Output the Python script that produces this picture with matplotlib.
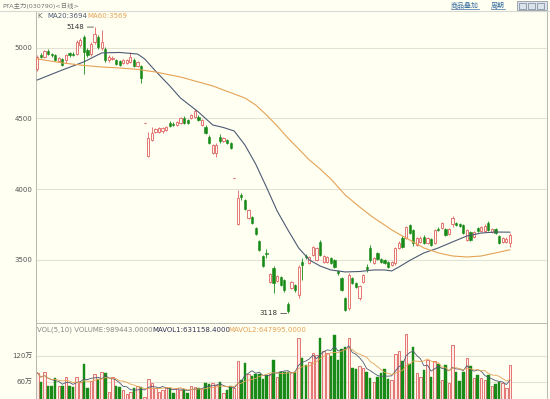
import matplotlib
matplotlib.use('Agg')
import matplotlib.pyplot as plt
import numpy as np
import pandas as pd
from matplotlib.patches import Rectangle

plt.rcParams['font.family'] = ['DejaVu Sans', 'Noto Sans CJK SC']

title = 'PTA主力(030790)<日线>'

opens = [4851, 4950, 4936, 4979, 4957, 4950, 4908, 4922, 4915, 4965, 4957, 4957, 5021, 5078, 4986, 4957, 5043, 5078, 5000, 4993,
         4915, 4922, 4915, 4908, 4894, 4894, 4901, 4915, 4872, 4872, 4468, 4234, 4348, 4404, 4404, 4411, 4419, 4468, 4461, 4454,
         4468, 4504, 4490, 4504, 4511, 4511, 4454, 4440, 4369, 4256, 4256, 4369, 4341, 4348, 4326, 4078, 3752, 3958, 3922, 3795,
         3802, 3724, 3632, 3525, 3547, 3341, 3440, 3348, 3376, 3355, 3185, 3298, 3320, 3249, 3483, 3525, 3476, 3532, 3497, 3625,
         3483, 3483, 3511, 3497, 3419, 3369, 3228, 3157, 3369, 3334, 3228, 3341, 3447, 3582, 3476, 3547, 3504, 3497, 3483, 3461,
         3476, 3582, 3653, 3653, 3745, 3710, 3603, 3625, 3660, 3617, 3646, 3617, 3717, 3724, 3717, 3681, 3752, 3759, 3752, 3745,
         3639, 3695, 3660, 3724, 3703, 3703, 3759, 3695, 3717, 3667, 3625, 3625, 3617]
highs = [4950, 4965, 4986, 4993, 4965, 4957, 4936, 4929, 4957, 4972, 4972, 5057, 5071, 5092, 5000, 5043, 5148, 5092, 5128, 5007,
         4950, 4943, 4922, 4915, 4922, 4922, 4972, 4929, 4908, 4879, 4468, 4404, 4440, 4433, 4440, 4440, 4447, 4483, 4475, 4483,
         4511, 4518, 4497, 4532, 4567, 4525, 4497, 4454, 4383, 4319, 4326, 4390, 4369, 4355, 4334, 4078, 3993, 3972, 3929, 3858,
         3809, 3731, 3639, 3532, 3575, 3405, 3454, 3391, 3383, 3362, 3199, 3348, 3327, 3461, 3511, 3539, 3525, 3596, 3589, 3639,
         3532, 3525, 3518, 3504, 3426, 3376, 3235, 3405, 3376, 3341, 3320, 3398, 3468, 3603, 3518, 3554, 3511, 3504, 3490, 3490,
         3589, 3632, 3667, 3738, 3752, 3717, 3660, 3667, 3674, 3660, 3653, 3717, 3731, 3766, 3724, 3724, 3809, 3766, 3759, 3752,
         3717, 3703, 3703, 3731, 3738, 3752, 3773, 3724, 3724, 3674, 3660, 3660, 3688]
lows = [4837, 4929, 4929, 4950, 4936, 4908, 4901, 4872, 4894, 4936, 4943, 4950, 5007, 4816, 4936, 4943, 5028, 4993, 4986, 4901,
        4901, 4915, 4879, 4872, 4887, 4887, 4894, 4865, 4865, 4752, 4468, 4227, 4341, 4397, 4397, 4397, 4411, 4440, 4447, 4447,
        4461, 4461, 4461, 4497, 4504, 4483, 4447, 4390, 4319, 4248, 4227, 4326, 4334, 4319, 4284, 4078, 3745, 3922, 3851, 3788,
        3752, 3674, 3561, 3447, 3511, 3334, 3263, 3341, 3312, 3270, 3118, 3291, 3270, 3228, 3355, 3504, 3468, 3525, 3490, 3525,
        3476, 3476, 3468, 3440, 3391, 3277, 3135, 3142, 3327, 3298, 3213, 3334, 3412, 3483, 3468, 3497, 3476, 3468, 3440, 3454,
        3461, 3575, 3582, 3646, 3681, 3596, 3596, 3617, 3610, 3610, 3596, 3610, 3703, 3717, 3667, 3674, 3731, 3738, 3731, 3681,
        3632, 3632, 3653, 3695, 3695, 3695, 3703, 3688, 3681, 3610, 3617, 3617, 3589]
closes = [4936, 4936, 4979, 4957, 4950, 4915, 4929, 4879, 4950, 4950, 4950, 5043, 5057, 4972, 4950, 5028, 5099, 5007, 5043, 4915,
          4936, 4929, 4887, 4879, 4915, 4915, 4936, 4872, 4901, 4787, 4468, 4362, 4397, 4426, 4433, 4433, 4440, 4447, 4454, 4475,
          4504, 4468, 4468, 4525, 4553, 4490, 4490, 4397, 4326, 4312, 4312, 4341, 4362, 4326, 4291, 4078, 3937, 3944, 3858, 3851,
          3759, 3681, 3568, 3454, 3539, 3398, 3334, 3383, 3320, 3284, 3135, 3341, 3284, 3447, 3461, 3518, 3518, 3589, 3582, 3532,
          3525, 3518, 3476, 3447, 3405, 3284, 3142, 3391, 3334, 3305, 3312, 3391, 3433, 3497, 3511, 3504, 3483, 3476, 3447, 3483,
          3582, 3617, 3589, 3731, 3688, 3617, 3653, 3653, 3617, 3653, 3603, 3710, 3710, 3759, 3674, 3717, 3795, 3745, 3738, 3688,
          3710, 3639, 3695, 3703, 3731, 3738, 3710, 3717, 3688, 3617, 3653, 3646, 3674]
# volumes in units of 万 (10,000)
volumes = [81, 60, 82, 50, 51, 69, 51, 50, 70, 50, 48, 72, 60, 100, 45, 62, 78, 66, 82, 81,
           37, 70, 50, 48, 41, 32, 37, 45, 50, 48, 25, 66, 56, 45, 37, 41, 48, 46, 35, 45,
           42, 41, 33, 50, 48, 46, 43, 56, 54, 56, 52, 60, 33, 41, 50, 45, 108, 64, 104, 78,
           73, 78, 78, 66, 75, 78, 110, 70, 83, 82, 83, 82, 83, 161, 114, 99, 106, 126, 122, 160,
           132, 127, 119, 168, 110, 135, 141, 160, 91, 89, 96, 92, 83, 68, 60, 70, 79, 89, 66, 64,
           124, 132, 108, 170, 102, 141, 81, 72, 87, 110, 72, 108, 100, 64, 99, 56, 145, 83, 62, 82,
           114, 96, 68, 76, 68, 64, 75, 50, 55, 60, 57, 45, 98.9443]

ma_idx = [0, 7, 13, 18, 23, 28, 30, 33, 37, 40, 45, 49, 52, 55, 58, 61, 64, 67, 70, 73, 76, 79, 82, 86, 90,
          94, 97, 99, 101, 104, 108, 112, 116, 120, 124, 128, 132]
ma20 = [4773, 4844, 4901, 4965, 4968, 4957, 4922, 4837, 4731, 4645, 4546, 4454, 4436, 4411, 4312, 4177, 4014, 3844,
        3710, 3582, 3497, 3454, 3426, 3412, 3415, 3426, 3426, 3419, 3447, 3493, 3547, 3582, 3625, 3667, 3688, 3695, 3694]
ma60 = [4922, 4894, 4876, 4865, 4858, 4848, 4840, 4830, 4809, 4794, 4759, 4731, 4702, 4674, 4645, 4596, 4525, 4447,
        4362, 4284, 4206, 4142, 4071, 3958, 3873, 3795, 3745, 3710, 3681, 3639, 3582, 3547, 3525, 3518, 3525, 3547, 3569]

price_ticks = [5000, 4500, 4000, 3500]
vol_ticks = [60, 120]
vol_tick_labels = ['60万', '120万']

last_volume = '989443.0000'
last_mavol1 = '631158.4000'
last_mavol2 = '647995.0000'

BG = '#FFFFF2'
UP = '#E06262'
UP_FILL = '#FDEBE4'
DOWN = '#178A17'
GRID = '#E2E2D6'
BORDER = '#B8B8B0'
MA20_C = '#4D5A74'
MA60_C = '#E5A255'
TXT = '#666666'

W, H = 550, 399
fig = plt.figure(figsize=(W / 100, H / 100), dpi=100, facecolor=BG)


def fpx(x, y):
    return x / W, 1 - y / H


# header
fig.add_artist(plt.Line2D([0, 1], [1 - 11 / H, 1 - 11 / H], color='#D8D8D0', lw=0.8))
fig.text(*fpx(2, 6), title, fontsize=4.6, color='#777777', va='center', ha='left')
fig.text(*fpx(451, 5), '商品叠加', fontsize=5, color='#3B6FA0', va='center', ha='left')
fig.text(*fpx(491, 5), '周期', fontsize=5, color='#3B6FA0', va='center', ha='left')
fig.add_artist(plt.Line2D([451 / W, 479 / W], [1 - 9 / H] * 2, color='#3B6FA0', lw=0.5))
fig.add_artist(plt.Line2D([491 / W, 505 / W], [1 - 9 / H] * 2, color='#3B6FA0', lw=0.5))
fig.add_artist(Rectangle(fpx(517, 10), 30 / W, 9 / H, facecolor='#DDE3EA', edgecolor='#7F8C9A', lw=0.5,
                         transform=fig.transFigure))
for bx in (519, 528, 537):
    fig.add_artist(Rectangle(fpx(bx, 8.5), 7 / W, 6 / H, facecolor='none', edgecolor='#5F6E80', lw=0.4,
                             transform=fig.transFigure))

x_left = (36 - 37.3) / 3.58
x_right = (547 - 37.3) / 3.58

# main price axes
ax = fig.add_axes([36 / W, 1 - 323 / H, 511 / W, 312 / H], facecolor=BG)
ax.set_xlim(x_left, x_right)
ax.set_ylim(3050, 5262)
for p in price_ticks:
    ax.axhline(p, color=GRID, lw=0.8, zorder=0)

idx = np.arange(len(opens))
o = np.array(opens, float)
h = np.array(highs, float)
l = np.array(lows, float)
c = np.array(closes, float)
up = c >= o
bw = 0.62
for i in idx:
    col = UP if up[i] else DOWN
    top = max(o[i], c[i])
    bot = min(o[i], c[i])
    ax.vlines(i, l[i], h[i], color=col, lw=0.6, zorder=2)
    if top - bot < 4:
        ax.hlines((top + bot) / 2, i - bw / 2, i + bw / 2, color=col, lw=0.8, zorder=3)
    elif up[i]:
        ax.add_patch(Rectangle((i - bw / 2, bot), bw, top - bot, facecolor=BG, edgecolor=UP, lw=0.6, zorder=3))
    else:
        ax.add_patch(Rectangle((i - bw / 2, bot), bw, top - bot, facecolor=DOWN, edgecolor=DOWN, lw=0.4, zorder=3))

ax.plot(ma_idx, ma20, color=MA20_C, lw=0.8, zorder=4)
ax.plot(ma_idx, ma60, color=MA60_C, lw=0.8, zorder=4)

imax = int(np.argmax(h))
imin = int(np.argmin(l))
ax.annotate(f'{int(h[imax])}', xy=(imax - 0.3, h[imax]), xytext=(-7, 0), textcoords='offset points',
            ha='right', va='center', fontsize=5, color='#333333',
            arrowprops=dict(arrowstyle='-', color='#333333', lw=0.5, shrinkA=0.5, shrinkB=0))
ax.annotate(f'{int(l[imin])}', xy=(imin - 0.3, l[imin]), xytext=(-7, 0), textcoords='offset points',
            ha='right', va='center', fontsize=5, color='#333333',
            arrowprops=dict(arrowstyle='-', color='#333333', lw=0.5, shrinkA=0.5, shrinkB=0))

ax.set_xticks([])
ax.set_yticks(price_ticks)
ax.set_yticklabels([str(p) for p in price_ticks])
ax.tick_params(axis='y', length=0, pad=2.5, labelsize=5, labelcolor='#555555')
for s in ax.spines.values():
    s.set_color(BORDER)
    s.set_linewidth(0.7)
ax.spines['top'].set_visible(False)

fig.text(*fpx(37, 16), 'K', fontsize=5, color=TXT, va='center', ha='left')
fig.text(*fpx(47, 16), f'MA20:{ma20[-1]}', fontsize=5, color=MA20_C, va='center', ha='left')
fig.text(*fpx(87, 16), f'MA60:{ma60[-1]}', fontsize=5, color=MA60_C, va='center', ha='left')

# volume axes
vx = fig.add_axes([36 / W, 0, 511 / W, 76 / H], facecolor=BG)
vx.set_xlim(x_left, x_right)
vx.set_ylim(20.1, 195.5)
for v in vol_ticks:
    vx.axhline(v, color=GRID, lw=0.8, zorder=0)
vol = np.array(volumes, float)
vx.bar(idx[up], vol[up], width=0.7, color=UP_FILL, edgecolor=UP, lw=0.6, zorder=2)
vx.bar(idx[~up], vol[~up], width=0.7, color=DOWN, edgecolor=DOWN, lw=0.3, zorder=2)
vs = pd.Series(vol)
mavol1 = vs.rolling(5, min_periods=1).mean()
mavol2 = vs.rolling(10, min_periods=1).mean()
vx.plot(idx, mavol1, color=MA20_C, lw=0.6, zorder=3)
vx.plot(idx, mavol2, color=MA60_C, lw=0.6, zorder=3)
vx.set_xticks([])
vx.set_yticks(vol_ticks)
vx.set_yticklabels(vol_tick_labels)
vx.tick_params(axis='y', length=0, pad=2.5, labelsize=5, labelcolor='#555555')
for s in vx.spines.values():
    s.set_color(BORDER)
    s.set_linewidth(0.7)
vx.spines['bottom'].set_visible(False)

fig.text(*fpx(37, 330), f'VOL(5,10) VOLUME:{last_volume}', fontsize=5, color='#888888', va='center', ha='left')
fig.text(*fpx(152, 330), f'MAVOL1:{last_mavol1}', fontsize=5, color='#333355', va='center', ha='left')
fig.text(*fpx(228, 330), f'MAVOL2:{last_mavol2}', fontsize=5, color=MA60_C, va='center', ha='left')

fig.savefig('out.png', dpi=100, facecolor=BG)
